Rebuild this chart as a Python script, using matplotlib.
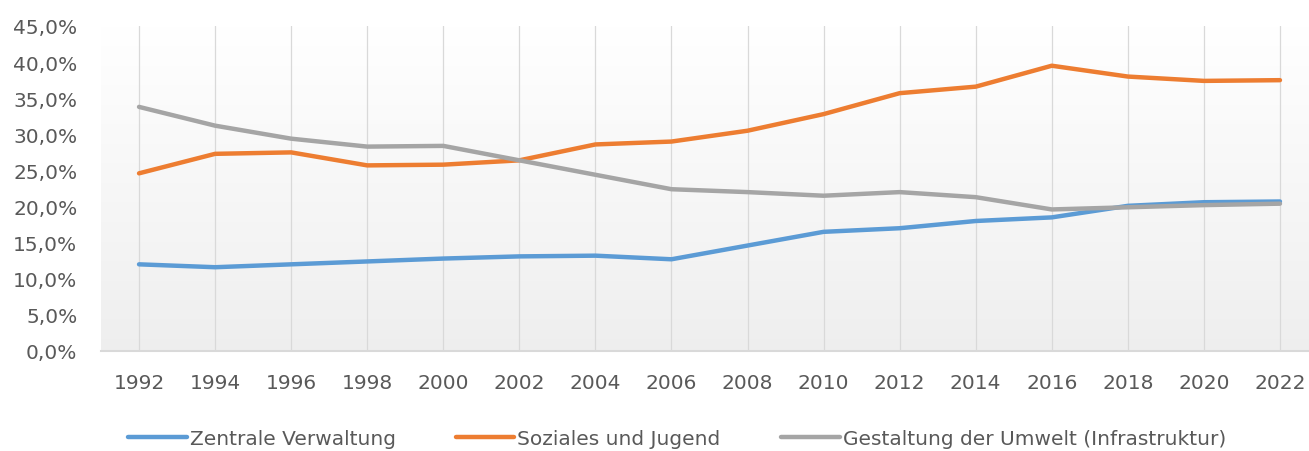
import numpy as np
import matplotlib.pyplot as plt
from matplotlib.ticker import FuncFormatter

plt.rcParams['font.family'] = ['DejaVu Sans']

years = [1992, 1994, 1996, 1998, 2000, 2002, 2004, 2006,
         2008, 2010, 2012, 2014, 2016, 2018, 2020, 2022]
zentrale_verwaltung = [12.0, 11.6, 12.0, 12.4, 12.8, 13.1, 13.2, 12.7,
                       14.6, 16.5, 17.0, 18.0, 18.5, 20.1, 20.6, 20.7]
soziales_jugend = [24.6, 27.3, 27.5, 25.7, 25.8, 26.4, 28.6, 29.0,
                   30.5, 32.8, 35.7, 36.6, 39.5, 38.0, 37.4, 37.5]
gestaltung_umwelt = [33.8, 31.2, 29.4, 28.3, 28.4, 26.4, 24.4, 22.4,
                     22.0, 21.5, 22.0, 21.3, 19.6, 19.9, 20.2, 20.4]
series_names = ['Zentrale Verwaltung', 'Soziales und Jugend',
                'Gestaltung der Umwelt (Infrastruktur)']
colors = ['#5B9BD5', '#ED7D31', '#A5A5A5']

fig = plt.figure(figsize=(13.09, 4.52), dpi=100)
ax = fig.add_axes([101 / 1309, 100 / 452, 1217 / 1309, 325 / 452])

# gradient plot area background
grad = np.linspace(1.0, 0.935, 256).reshape(-1, 1)
ax.imshow(np.dstack([grad, grad, grad]), aspect='auto', extent=(1991, 2023, 0, 45),
          origin='upper', zorder=0)

for x in years:
    ax.axvline(x, color='#d9d9d9', linewidth=0.9, zorder=1)

for vals, name, c in zip([zentrale_verwaltung, soziales_jugend, gestaltung_umwelt],
                         series_names, colors):
    ax.plot(years, vals, color=c, linewidth=3.2, label=name, zorder=3,
            solid_capstyle='round', solid_joinstyle='round')

ax.set_xlim(1991, 2023)
ax.set_ylim(0, 45)
ax.set_xticks(years)
ax.set_yticks(np.arange(0, 46, 5))
ax.yaxis.set_major_formatter(FuncFormatter(lambda v, p: f'{v:.1f}%'.replace('.', ',')))

for s in ['top', 'right', 'left']:
    ax.spines[s].set_visible(False)
ax.spines['bottom'].set_color('#d9d9d9')
ax.spines['bottom'].set_linewidth(1.5)
ax.spines['bottom'].set_zorder(2)

ax.tick_params(axis='y', length=0, pad=17, labelsize=14.5, labelcolor='#595959')
ax.tick_params(axis='x', length=0, pad=16, labelsize=14.5, labelcolor='#595959')

fig.legend(loc='center', bbox_to_anchor=(677 / 1309, 12 / 452), ncol=3,
           frameon=False, fontsize=14.5, handlelength=2.9, handletextpad=0.15,
           columnspacing=3.0, labelcolor='#595959')

fig.savefig('out.png', dpi=100)
